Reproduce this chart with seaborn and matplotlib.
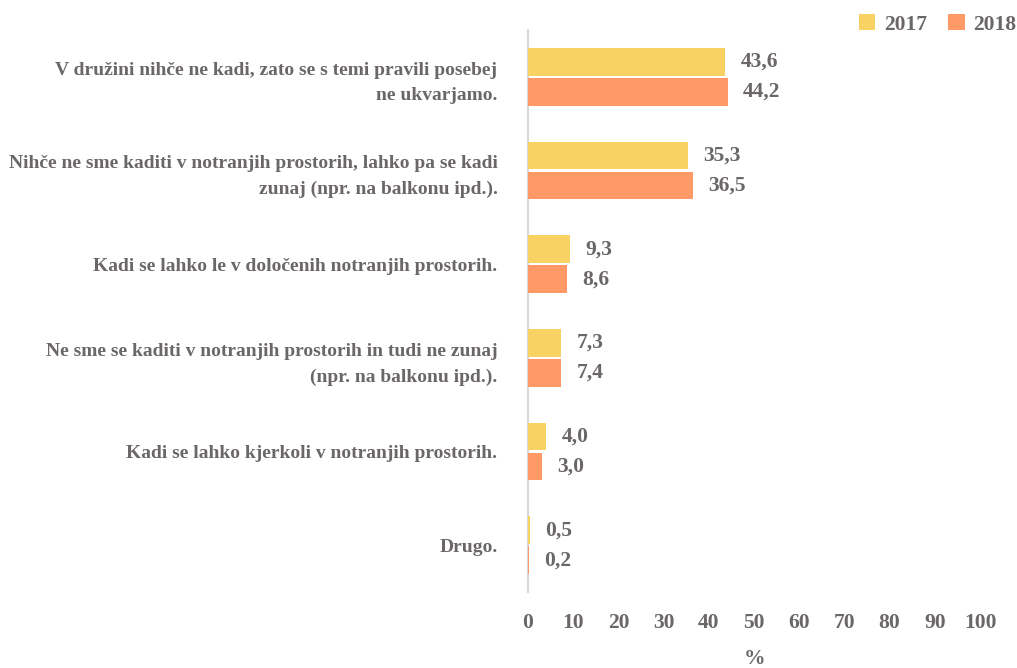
import matplotlib
matplotlib.use("Agg")
import matplotlib.pyplot as plt
import seaborn as sns
import pandas as pd
from matplotlib.patches import Patch

categories = [
    "V družini nihče ne kadi, zato se s temi pravili posebej\nne ukvarjamo.",
    "Nihče ne sme kaditi v notranjih prostorih, lahko pa se kadi\nzunaj (npr. na balkonu ipd.).",
    "Kadi se lahko le v določenih notranjih prostorih.",
    "Ne sme se kaditi v notranjih prostorih in tudi ne zunaj\n(npr. na balkonu ipd.).",
    "Kadi se lahko kjerkoli v notranjih prostorih.",
    "Drugo.",
]
years = ["2017", "2018"]
values_2017 = [43.6, 35.3, 9.3, 7.3, 4.0, 0.5]
values_2018 = [44.2, 36.5, 8.6, 7.4, 3.0, 0.2]
xticks = [0, 10, 20, 30, 40, 50, 60, 70, 80, 90, 100]

df = pd.DataFrame({
    "cat": categories * 2,
    "year": [years[0]] * 6 + [years[1]] * 6,
    "val": values_2017 + values_2018,
})

sns.set_theme(style="white")
plt.rcParams["font.family"] = ["Liberation Serif", "DejaVu Serif"]
plt.rcParams["font.weight"] = "bold"
TXT = "#6b6767"
colors = {"2017": "#F9D264", "2018": "#FF9966"}
NUM = 15.5

fig = plt.figure(figsize=(10.17, 6.68), dpi=100)
ax = fig.add_axes([528 / 1017, 1 - 592 / 668, (980 - 528) / 1017, (592 - 30) / 668])

sns.barplot(data=df, y="cat", x="val", hue="year", palette=colors, orient="h",
            width=0.64, gap=0.08, ax=ax, legend=False, saturation=1,
            edgecolor="none", linewidth=0)
for p in ax.patches:
    p.set_zorder(3)

for cont in ax.containers:
    labels = [f"{v:.1f}".replace(".", ",") for v in cont.datavalues]
    ax.bar_label(cont, labels=labels, padding=11, fontsize=NUM, color=TXT, fontweight="bold")

ax.set_xlim(0, 100)
ax.set_ylim(5.5, -0.5)
ax.set_xticks(xticks)
ax.set_xticklabels([str(t) for t in xticks], fontsize=NUM, color=TXT, fontweight="bold")
ax.tick_params(axis="x", length=0, pad=15)
ax.tick_params(axis="y", length=0, pad=22)
for lab in ax.get_yticklabels():
    lab.set_fontsize(14)
    lab.set_color(TXT)
    lab.set_fontweight("bold")
    lab.set_horizontalalignment("right")
    lab.set_multialignment("right")
    lab.set_linespacing(1.65)
ax.set_ylabel("")
ax.set_xlabel("%", fontsize=NUM, color=TXT, fontweight="bold", labelpad=12)
for s in ["top", "right", "bottom"]:
    ax.spines[s].set_visible(False)
ax.spines["left"].set_color("#d9d9d9")
ax.spines["left"].set_linewidth(1.5)
ax.spines["left"].set_zorder(1)

handles = [Patch(facecolor=colors[y], edgecolor="none") for y in years]
fig.legend(handles, years, loc="upper right", bbox_to_anchor=(1.012, 0.998), ncol=2,
           frameon=False, labelcolor=TXT, handlelength=0.75, handleheight=0.75,
           columnspacing=1.0, handletextpad=0.4, borderaxespad=0.2,
           prop={"weight": "bold", "size": NUM})

fig.savefig("out.png", dpi=100)
